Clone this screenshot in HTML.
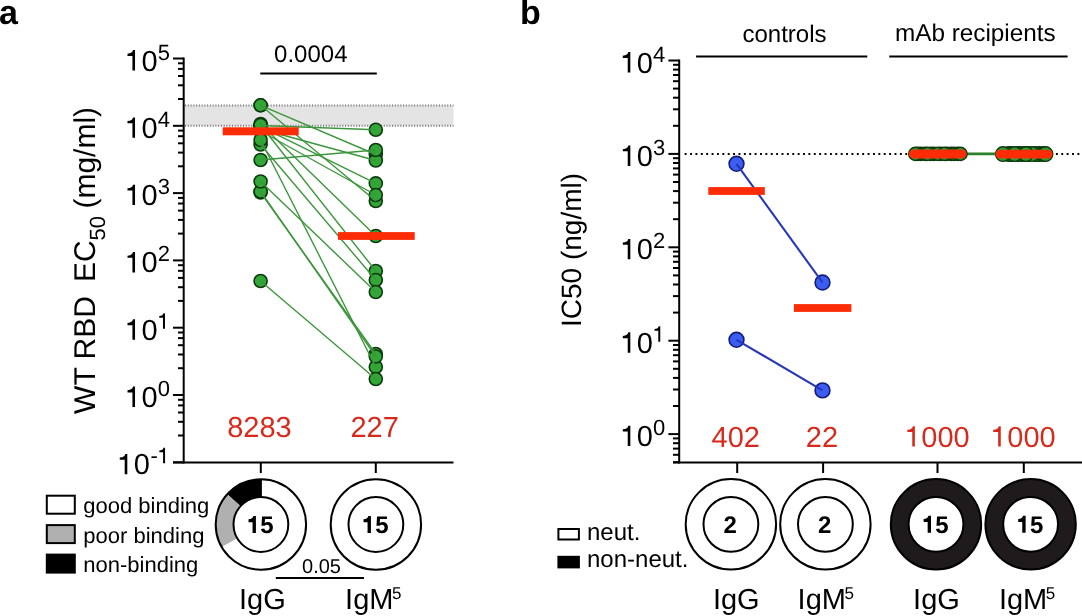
<!DOCTYPE html>
<html><head><meta charset="utf-8"><style>
html,body{margin:0;padding:0;background:#fff;}
svg{display:block;will-change:transform;}
text{font-family:"Liberation Sans", sans-serif;text-rendering:geometricPrecision;}
.t29{font-size:29px;}
.t28{font-size:28px;}
.t24{font-size:24px;}
.t22{font-size:22px;}
.t20{font-size:20px;}
.b24{font-size:24px;font-weight:bold;}
.lbl{font-size:34px;font-weight:bold;}
.red{fill:#d82a1c;}
.ax{stroke:#000;stroke-width:2;}
.gc{fill:#32a636;stroke:#0c3a0e;stroke-width:1.6;}
.gc2{fill:#2f9f33;stroke:#0c3a0e;stroke-width:1.4;}
.gl{stroke:#3c963c;stroke-width:1.4;}
.rb{fill:#fb2c06;}
.bc{fill:#3d5df2;stroke:#101d78;stroke-width:1.6;}
.bl{stroke:#2536b8;stroke-width:2.1;}
</style></head><body>
<svg width="1082" height="616" viewBox="0 0 1082 616">
<rect width="1082" height="616" fill="#fff"/>
<line x1="183.7" y1="57.5" x2="183.7" y2="463.5" class="ax"/>
<line x1="173" y1="462.5" x2="453.5" y2="462.5" class="ax"/>
<line x1="173" y1="462.3" x2="183.7" y2="462.3" class="ax"/>
<line x1="178" y1="435.5" x2="183.7" y2="435.5" class="ax"/>
<line x1="178" y1="421.8" x2="183.7" y2="421.8" class="ax"/>
<line x1="178" y1="412.5" x2="183.7" y2="412.5" class="ax"/>
<line x1="178" y1="405.4" x2="183.7" y2="405.4" class="ax"/>
<line x1="178" y1="399.8" x2="183.7" y2="399.8" class="ax"/>
<path transform="translate(117.68,474.30) scale(29,-29)" d="M0.332 0L0.332 0.703L0.262 0.703C0.247 0.63 0.195 0.585 0.072 0.577L0.072 0.502L0.242 0.502L0.242 0Z" fill="#000"/>
<text x="133.81" y="474.30" font-size="29" fill="#000">0</text>
<text x="150.44" y="463.30" font-size="22" fill="#000">-</text>
<path transform="translate(157.76,463.30) scale(22,-22)" d="M0.332 0L0.332 0.703L0.262 0.703C0.247 0.63 0.195 0.585 0.072 0.577L0.072 0.502L0.242 0.502L0.242 0Z" fill="#000"/>
<line x1="173" y1="395.0" x2="183.7" y2="395.0" class="ax"/>
<line x1="178" y1="368.2" x2="183.7" y2="368.2" class="ax"/>
<line x1="178" y1="354.5" x2="183.7" y2="354.5" class="ax"/>
<line x1="178" y1="345.2" x2="183.7" y2="345.2" class="ax"/>
<line x1="178" y1="338.1" x2="183.7" y2="338.1" class="ax"/>
<line x1="178" y1="332.5" x2="183.7" y2="332.5" class="ax"/>
<path transform="translate(125.41,407.00) scale(29,-29)" d="M0.332 0L0.332 0.703L0.262 0.703C0.247 0.63 0.195 0.585 0.072 0.577L0.072 0.502L0.242 0.502L0.242 0Z" fill="#000"/>
<text x="141.54" y="407.00" font-size="29" fill="#000">0</text>
<text x="157.66" y="396.00" font-size="22" fill="#000">0</text>
<line x1="173" y1="327.7" x2="183.7" y2="327.7" class="ax"/>
<line x1="178" y1="300.9" x2="183.7" y2="300.9" class="ax"/>
<line x1="178" y1="287.2" x2="183.7" y2="287.2" class="ax"/>
<line x1="178" y1="277.9" x2="183.7" y2="277.9" class="ax"/>
<line x1="178" y1="270.8" x2="183.7" y2="270.8" class="ax"/>
<line x1="178" y1="265.2" x2="183.7" y2="265.2" class="ax"/>
<path transform="translate(125.41,339.70) scale(29,-29)" d="M0.332 0L0.332 0.703L0.262 0.703C0.247 0.63 0.195 0.585 0.072 0.577L0.072 0.502L0.242 0.502L0.242 0Z" fill="#000"/>
<text x="141.54" y="339.70" font-size="29" fill="#000">0</text>
<path transform="translate(157.66,328.70) scale(22,-22)" d="M0.332 0L0.332 0.703L0.262 0.703C0.247 0.63 0.195 0.585 0.072 0.577L0.072 0.502L0.242 0.502L0.242 0Z" fill="#000"/>
<line x1="173" y1="260.4" x2="183.7" y2="260.4" class="ax"/>
<line x1="178" y1="233.6" x2="183.7" y2="233.6" class="ax"/>
<line x1="178" y1="219.9" x2="183.7" y2="219.9" class="ax"/>
<line x1="178" y1="210.6" x2="183.7" y2="210.6" class="ax"/>
<line x1="178" y1="203.5" x2="183.7" y2="203.5" class="ax"/>
<line x1="178" y1="197.9" x2="183.7" y2="197.9" class="ax"/>
<path transform="translate(125.41,272.40) scale(29,-29)" d="M0.332 0L0.332 0.703L0.262 0.703C0.247 0.63 0.195 0.585 0.072 0.577L0.072 0.502L0.242 0.502L0.242 0Z" fill="#000"/>
<text x="141.54" y="272.40" font-size="29" fill="#000">0</text>
<text x="157.66" y="261.40" font-size="22" fill="#000">2</text>
<line x1="173" y1="193.1" x2="183.7" y2="193.1" class="ax"/>
<line x1="178" y1="166.3" x2="183.7" y2="166.3" class="ax"/>
<line x1="178" y1="152.6" x2="183.7" y2="152.6" class="ax"/>
<line x1="178" y1="143.3" x2="183.7" y2="143.3" class="ax"/>
<line x1="178" y1="136.2" x2="183.7" y2="136.2" class="ax"/>
<line x1="178" y1="130.6" x2="183.7" y2="130.6" class="ax"/>
<path transform="translate(125.41,205.10) scale(29,-29)" d="M0.332 0L0.332 0.703L0.262 0.703C0.247 0.63 0.195 0.585 0.072 0.577L0.072 0.502L0.242 0.502L0.242 0Z" fill="#000"/>
<text x="141.54" y="205.10" font-size="29" fill="#000">0</text>
<text x="157.66" y="194.10" font-size="22" fill="#000">3</text>
<line x1="173" y1="125.8" x2="183.7" y2="125.8" class="ax"/>
<line x1="178" y1="99.0" x2="183.7" y2="99.0" class="ax"/>
<line x1="178" y1="85.3" x2="183.7" y2="85.3" class="ax"/>
<line x1="178" y1="76.0" x2="183.7" y2="76.0" class="ax"/>
<line x1="178" y1="68.9" x2="183.7" y2="68.9" class="ax"/>
<line x1="178" y1="63.3" x2="183.7" y2="63.3" class="ax"/>
<path transform="translate(125.41,137.80) scale(29,-29)" d="M0.332 0L0.332 0.703L0.262 0.703C0.247 0.63 0.195 0.585 0.072 0.577L0.072 0.502L0.242 0.502L0.242 0Z" fill="#000"/>
<text x="141.54" y="137.80" font-size="29" fill="#000">0</text>
<text x="157.66" y="126.80" font-size="22" fill="#000">4</text>
<line x1="173" y1="58.5" x2="183.7" y2="58.5" class="ax"/>
<path transform="translate(125.41,70.50) scale(29,-29)" d="M0.332 0L0.332 0.703L0.262 0.703C0.247 0.63 0.195 0.585 0.072 0.577L0.072 0.502L0.242 0.502L0.242 0Z" fill="#000"/>
<text x="141.54" y="70.50" font-size="29" fill="#000">0</text>
<text x="157.66" y="59.50" font-size="22" fill="#000">5</text>
<rect x="185" y="105.5" width="268.5" height="20.3" fill="#e4e4e4"/>
<line x1="185" y1="105.5" x2="453.5" y2="105.5" stroke="#7a7a7a" stroke-width="2" stroke-dasharray="1.1 1.66"/>
<line x1="185" y1="125.8" x2="453.5" y2="125.8" stroke="#7a7a7a" stroke-width="2" stroke-dasharray="1.1 1.66"/>
<line x1="260.8" y1="462.5" x2="260.8" y2="473" class="ax"/>
<line x1="375.8" y1="462.5" x2="375.8" y2="473" class="ax"/>
<circle cx="260.6" cy="105.3" r="6.5" class="gc"/>
<circle cx="375.8" cy="154.5" r="6.5" class="gc"/>
<circle cx="260.6" cy="105.3" r="6.5" class="gc"/>
<circle cx="375.8" cy="201.0" r="6.5" class="gc"/>
<circle cx="260.6" cy="125.5" r="6.5" class="gc"/>
<circle cx="375.8" cy="129.8" r="6.5" class="gc"/>
<circle cx="260.6" cy="129.0" r="6.5" class="gc"/>
<circle cx="375.8" cy="160.5" r="6.5" class="gc"/>
<circle cx="260.6" cy="160.0" r="6.5" class="gc"/>
<circle cx="375.8" cy="150.0" r="6.5" class="gc"/>
<circle cx="260.6" cy="126.6" r="6.5" class="gc"/>
<circle cx="375.8" cy="183.4" r="6.5" class="gc"/>
<circle cx="260.6" cy="131.0" r="6.5" class="gc"/>
<circle cx="375.8" cy="195.0" r="6.5" class="gc"/>
<circle cx="260.6" cy="124.0" r="6.5" class="gc"/>
<circle cx="375.8" cy="236.0" r="6.5" class="gc"/>
<circle cx="260.6" cy="125.0" r="6.5" class="gc"/>
<circle cx="375.8" cy="271.0" r="6.5" class="gc"/>
<circle cx="260.6" cy="144.5" r="6.5" class="gc"/>
<circle cx="375.8" cy="280.0" r="6.5" class="gc"/>
<circle cx="260.6" cy="140.0" r="6.5" class="gc"/>
<circle cx="375.8" cy="367.0" r="6.5" class="gc"/>
<circle cx="260.6" cy="192.5" r="6.5" class="gc"/>
<circle cx="375.8" cy="354.0" r="6.5" class="gc"/>
<circle cx="260.6" cy="191.5" r="6.5" class="gc"/>
<circle cx="375.8" cy="356.5" r="6.5" class="gc"/>
<circle cx="260.6" cy="181.5" r="6.5" class="gc"/>
<circle cx="375.8" cy="292.0" r="6.5" class="gc"/>
<circle cx="260.6" cy="281.0" r="6.5" class="gc"/>
<circle cx="375.8" cy="379.0" r="6.5" class="gc"/>
<line x1="260.6" y1="105.3" x2="375.8" y2="154.5" class="gl"/>
<line x1="260.6" y1="105.3" x2="375.8" y2="201.0" class="gl"/>
<line x1="260.6" y1="125.5" x2="375.8" y2="129.8" class="gl"/>
<line x1="260.6" y1="129.0" x2="375.8" y2="160.5" class="gl"/>
<line x1="260.6" y1="160.0" x2="375.8" y2="150.0" class="gl"/>
<line x1="260.6" y1="126.6" x2="375.8" y2="183.4" class="gl"/>
<line x1="260.6" y1="131.0" x2="375.8" y2="195.0" class="gl"/>
<line x1="260.6" y1="124.0" x2="375.8" y2="236.0" class="gl"/>
<line x1="260.6" y1="125.0" x2="375.8" y2="271.0" class="gl"/>
<line x1="260.6" y1="144.5" x2="375.8" y2="280.0" class="gl"/>
<line x1="260.6" y1="140.0" x2="375.8" y2="367.0" class="gl"/>
<line x1="260.6" y1="192.5" x2="375.8" y2="354.0" class="gl"/>
<line x1="260.6" y1="191.5" x2="375.8" y2="356.5" class="gl"/>
<line x1="260.6" y1="181.5" x2="375.8" y2="292.0" class="gl"/>
<line x1="260.6" y1="281.0" x2="375.8" y2="379.0" class="gl"/>
<rect x="222.7" y="127.3" width="76" height="8" class="rb"/>
<rect x="338" y="232.1" width="76.7" height="7.8" class="rb"/>
<text x="310.8" y="62.4" text-anchor="middle" class="t24">0.0004</text>
<line x1="260.3" y1="73.5" x2="376.8" y2="73.5" class="ax"/>
<text x="259.5" y="437.3" text-anchor="middle" class="t29 red">8283</text>
<text x="374.6" y="437.3" text-anchor="middle" class="t29 red">227</text>
<text transform="translate(94.6,413.9) rotate(-90)" font-size="30">WT RBD</text>
<text transform="translate(94.6,282) rotate(-90)" font-size="30">EC</text>
<text transform="translate(104.6,240.6) rotate(-90)" font-size="22">50</text>
<text transform="translate(94.6,208.6) rotate(-90)" font-size="30">(mg/ml)</text>
<text x="-1" y="23.9" class="lbl">a</text>
<text x="520" y="23.6" class="lbl">b</text>
<circle cx="260.9" cy="524.5" r="45.2" fill="#fff"/>
<path d="M260.90,479.30 A45.2,45.2 0 0 0 227.31,494.26 L240.54,506.17 A27.4,27.4 0 0 1 260.90,497.10 Z" fill="#000"/>
<path d="M227.31,494.26 A45.2,45.2 0 0 0 221.76,547.10 L237.17,538.20 A27.4,27.4 0 0 1 240.54,506.17 Z" fill="#b0b0b0"/>
<line x1="260.9" y1="479.3" x2="260.9" y2="497.1" stroke="#000" stroke-width="2"/>
<circle cx="260.9" cy="524.5" r="45.2" fill="none" stroke="#000" stroke-width="2"/>
<circle cx="260.9" cy="524.5" r="27.4" fill="#fff" stroke="#000" stroke-width="2"/>
<path transform="translate(246.85,533.00) scale(24,-24)" d="M0.378 0L0.378 0.71L0.272 0.71C0.255 0.635 0.19 0.58 0.069 0.572L0.069 0.45L0.238 0.45L0.238 0Z" fill="#000"/>
<text x="260.20" y="533.00" font-size="24" font-weight="bold" fill="#000">5</text>
<circle cx="375.9" cy="524.5" r="45.2" fill="#fff"/>
<circle cx="375.9" cy="524.5" r="45.2" fill="none" stroke="#000" stroke-width="2"/>
<circle cx="375.9" cy="524.5" r="27.4" fill="#fff" stroke="#000" stroke-width="2"/>
<path transform="translate(361.85,533.00) scale(24,-24)" d="M0.378 0L0.378 0.71L0.272 0.71C0.255 0.635 0.19 0.58 0.069 0.572L0.069 0.45L0.238 0.45L0.238 0Z" fill="#000"/>
<text x="375.20" y="533.00" font-size="24" font-weight="bold" fill="#000">5</text>
<rect x="46.8" y="495.7" width="28" height="18" fill="#fff" stroke="#000" stroke-width="2"/>
<text x="83.3" y="513.3" class="t22">good binding</text>
<rect x="46.8" y="525.1" width="28" height="18" fill="#b0b0b0" stroke="#000" stroke-width="2"/>
<text x="83.3" y="542.8" class="t22">poor binding</text>
<rect x="46.8" y="554.6" width="28" height="18" fill="#000" stroke="#000" stroke-width="2"/>
<text x="83.3" y="572.2" class="t22">non-binding</text>
<text x="321.5" y="573.3" text-anchor="middle" class="t20">0.05</text>
<line x1="275.8" y1="578" x2="364" y2="578" class="ax"/>
<text x="239" y="608.7" class="t29">IgG</text>
<text x="345.1" y="608.7" class="t29">IgM<tspan font-size="17" dx="-1.4" dy="-9.3">5</tspan></text>
<line x1="679.2" y1="59.5" x2="679.2" y2="463.5" class="ax"/>
<line x1="673" y1="462.5" x2="1082" y2="462.5" class="ax"/>
<line x1="668.4" y1="434.1" x2="679.2" y2="434.1" class="ax"/>
<path transform="translate(620.71,446.10) scale(29,-29)" d="M0.332 0L0.332 0.703L0.262 0.703C0.247 0.63 0.195 0.585 0.072 0.577L0.072 0.502L0.242 0.502L0.242 0Z" fill="#000"/>
<text x="636.84" y="446.10" font-size="29" fill="#000">0</text>
<text x="652.96" y="435.10" font-size="22" fill="#000">0</text>
<line x1="668.4" y1="340.7" x2="679.2" y2="340.7" class="ax"/>
<path transform="translate(620.71,352.70) scale(29,-29)" d="M0.332 0L0.332 0.703L0.262 0.703C0.247 0.63 0.195 0.585 0.072 0.577L0.072 0.502L0.242 0.502L0.242 0Z" fill="#000"/>
<text x="636.84" y="352.70" font-size="29" fill="#000">0</text>
<path transform="translate(652.96,341.70) scale(22,-22)" d="M0.332 0L0.332 0.703L0.262 0.703C0.247 0.63 0.195 0.585 0.072 0.577L0.072 0.502L0.242 0.502L0.242 0Z" fill="#000"/>
<line x1="668.4" y1="247.3" x2="679.2" y2="247.3" class="ax"/>
<path transform="translate(620.71,259.30) scale(29,-29)" d="M0.332 0L0.332 0.703L0.262 0.703C0.247 0.63 0.195 0.585 0.072 0.577L0.072 0.502L0.242 0.502L0.242 0Z" fill="#000"/>
<text x="636.84" y="259.30" font-size="29" fill="#000">0</text>
<text x="652.96" y="248.30" font-size="22" fill="#000">2</text>
<line x1="668.4" y1="153.9" x2="679.2" y2="153.9" class="ax"/>
<path transform="translate(620.71,165.90) scale(29,-29)" d="M0.332 0L0.332 0.703L0.262 0.703C0.247 0.63 0.195 0.585 0.072 0.577L0.072 0.502L0.242 0.502L0.242 0Z" fill="#000"/>
<text x="636.84" y="165.90" font-size="29" fill="#000">0</text>
<text x="652.96" y="154.90" font-size="22" fill="#000">3</text>
<line x1="668.4" y1="60.5" x2="679.2" y2="60.5" class="ax"/>
<path transform="translate(620.71,72.50) scale(29,-29)" d="M0.332 0L0.332 0.703L0.262 0.703C0.247 0.63 0.195 0.585 0.072 0.577L0.072 0.502L0.242 0.502L0.242 0Z" fill="#000"/>
<text x="636.84" y="72.50" font-size="29" fill="#000">0</text>
<text x="652.96" y="61.50" font-size="22" fill="#000">4</text>
<line x1="673" y1="462.2" x2="679.2" y2="462.2" class="ax"/>
<line x1="673" y1="454.8" x2="679.2" y2="454.8" class="ax"/>
<line x1="673" y1="448.6" x2="679.2" y2="448.6" class="ax"/>
<line x1="673" y1="443.2" x2="679.2" y2="443.2" class="ax"/>
<line x1="673" y1="438.4" x2="679.2" y2="438.4" class="ax"/>
<line x1="673" y1="406.0" x2="679.2" y2="406.0" class="ax"/>
<line x1="673" y1="389.5" x2="679.2" y2="389.5" class="ax"/>
<line x1="673" y1="377.9" x2="679.2" y2="377.9" class="ax"/>
<line x1="673" y1="368.8" x2="679.2" y2="368.8" class="ax"/>
<line x1="673" y1="361.4" x2="679.2" y2="361.4" class="ax"/>
<line x1="673" y1="355.2" x2="679.2" y2="355.2" class="ax"/>
<line x1="673" y1="349.8" x2="679.2" y2="349.8" class="ax"/>
<line x1="673" y1="345.0" x2="679.2" y2="345.0" class="ax"/>
<line x1="673" y1="312.6" x2="679.2" y2="312.6" class="ax"/>
<line x1="673" y1="296.1" x2="679.2" y2="296.1" class="ax"/>
<line x1="673" y1="284.5" x2="679.2" y2="284.5" class="ax"/>
<line x1="673" y1="275.4" x2="679.2" y2="275.4" class="ax"/>
<line x1="673" y1="268.0" x2="679.2" y2="268.0" class="ax"/>
<line x1="673" y1="261.8" x2="679.2" y2="261.8" class="ax"/>
<line x1="673" y1="256.4" x2="679.2" y2="256.4" class="ax"/>
<line x1="673" y1="251.6" x2="679.2" y2="251.6" class="ax"/>
<line x1="673" y1="219.2" x2="679.2" y2="219.2" class="ax"/>
<line x1="673" y1="202.7" x2="679.2" y2="202.7" class="ax"/>
<line x1="673" y1="191.1" x2="679.2" y2="191.1" class="ax"/>
<line x1="673" y1="182.0" x2="679.2" y2="182.0" class="ax"/>
<line x1="673" y1="174.6" x2="679.2" y2="174.6" class="ax"/>
<line x1="673" y1="168.4" x2="679.2" y2="168.4" class="ax"/>
<line x1="673" y1="163.0" x2="679.2" y2="163.0" class="ax"/>
<line x1="673" y1="158.2" x2="679.2" y2="158.2" class="ax"/>
<line x1="673" y1="125.8" x2="679.2" y2="125.8" class="ax"/>
<line x1="673" y1="109.3" x2="679.2" y2="109.3" class="ax"/>
<line x1="673" y1="97.7" x2="679.2" y2="97.7" class="ax"/>
<line x1="673" y1="88.6" x2="679.2" y2="88.6" class="ax"/>
<line x1="673" y1="81.2" x2="679.2" y2="81.2" class="ax"/>
<line x1="673" y1="75.0" x2="679.2" y2="75.0" class="ax"/>
<line x1="673" y1="69.6" x2="679.2" y2="69.6" class="ax"/>
<line x1="673" y1="64.8" x2="679.2" y2="64.8" class="ax"/>
<line x1="737.2" y1="462.5" x2="737.2" y2="473" class="ax"/>
<line x1="823.1" y1="462.5" x2="823.1" y2="473" class="ax"/>
<line x1="937.5" y1="462.5" x2="937.5" y2="473" class="ax"/>
<line x1="1023.8" y1="462.5" x2="1023.8" y2="473" class="ax"/>
<line x1="684.7" y1="153.9" x2="1082" y2="153.9" stroke="#000" stroke-width="2" stroke-dasharray="1.9 3.48" />
<circle cx="736.5" cy="163.8" r="7.4" class="bc"/>
<circle cx="736.5" cy="339.8" r="7.4" class="bc"/>
<circle cx="822.5" cy="282.5" r="7.4" class="bc"/>
<circle cx="822.5" cy="390.4" r="7.4" class="bc"/>
<line x1="736.5" y1="163.8" x2="822.5" y2="282.5" class="bl"/>
<line x1="736.5" y1="339.8" x2="822.5" y2="390.4" class="bl"/>
<rect x="708.3" y="187.1" width="56.5" height="7.8" class="rb"/>
<rect x="793.9" y="304.1" width="57.5" height="7.8" class="rb"/>
<line x1="960" y1="153.9" x2="1000" y2="153.9" stroke="#2c7f2c" stroke-width="2.6"/>
<circle cx="921.0" cy="153.9" r="6.6" class="gc2"/>
<circle cx="934.0" cy="153.9" r="6.6" class="gc2"/>
<circle cx="951.0" cy="153.9" r="6.6" class="gc2"/>
<circle cx="918.0" cy="153.9" r="6.6" class="gc2"/>
<circle cx="931.0" cy="153.9" r="6.6" class="gc2"/>
<circle cx="941.0" cy="153.9" r="6.6" class="gc2"/>
<circle cx="954.0" cy="153.9" r="6.6" class="gc2"/>
<circle cx="947.0" cy="153.9" r="6.6" class="gc2"/>
<circle cx="925.0" cy="153.9" r="6.6" class="gc2"/>
<circle cx="938.0" cy="153.9" r="6.6" class="gc2"/>
<circle cx="915.3" cy="153.9" r="6.6" class="gc2"/>
<circle cx="927.4" cy="153.9" r="6.6" class="gc2"/>
<circle cx="944.4" cy="153.9" r="6.6" class="gc2"/>
<circle cx="957.7" cy="153.9" r="6.6" class="gc2"/>
<circle cx="960.5" cy="153.9" r="6.6" class="gc2"/>
<circle cx="1008.8" cy="154.1" r="7.3" class="gc2"/>
<circle cx="1024.3" cy="154.1" r="7.3" class="gc2"/>
<circle cx="1039.2" cy="154.1" r="7.3" class="gc2"/>
<circle cx="1020.0" cy="154.1" r="7.3" class="gc2"/>
<circle cx="1028.0" cy="154.1" r="7.3" class="gc2"/>
<circle cx="1036.0" cy="154.1" r="7.3" class="gc2"/>
<circle cx="1011.0" cy="154.1" r="7.3" class="gc2"/>
<circle cx="1018.0" cy="154.1" r="7.3" class="gc2"/>
<circle cx="1002.9" cy="154.1" r="7.3" class="gc2"/>
<circle cx="1014.6" cy="154.1" r="7.3" class="gc2"/>
<circle cx="1032.0" cy="154.1" r="7.3" class="gc2"/>
<circle cx="1043.7" cy="154.1" r="7.3" class="gc2"/>
<circle cx="1045.5" cy="154.1" r="7.3" class="gc2"/>
<circle cx="1026.0" cy="154.1" r="7.3" class="gc2"/>
<rect x="908.9" y="149.5" width="57.6" height="8.9" rx="4.4" class="rb"/>
<rect x="995.5" y="149.8" width="57" height="8.6" rx="4.3" class="rb"/>
<text x="784.5" y="41.7" text-anchor="middle" class="t24">controls</text>
<line x1="696.1" y1="56.6" x2="867.3" y2="56.6" class="ax"/>
<text x="975.3" y="41.3" text-anchor="middle" font-size="24.3">mAb recipients</text>
<line x1="889.3" y1="56.4" x2="1067.6" y2="56.4" class="ax"/>
<text x="735.8" y="446.6" text-anchor="middle" class="t29 red">402</text>
<text x="822" y="446.6" text-anchor="middle" class="t29 red">22</text>
<path transform="translate(905.24,446.60) scale(29,-29)" d="M0.332 0L0.332 0.703L0.262 0.703C0.247 0.63 0.195 0.585 0.072 0.577L0.072 0.502L0.242 0.502L0.242 0Z" fill="#d82a1c"/>
<text x="921.37" y="446.60" font-size="29" fill="#d82a1c">000</text>
<path transform="translate(991.14,446.60) scale(29,-29)" d="M0.332 0L0.332 0.703L0.262 0.703C0.247 0.63 0.195 0.585 0.072 0.577L0.072 0.502L0.242 0.502L0.242 0Z" fill="#d82a1c"/>
<text x="1007.27" y="446.60" font-size="29" fill="#d82a1c">000</text>
<text transform="translate(580.7,327) rotate(-90)" class="t28">IC50 (ng/ml)</text>
<circle cx="730.9" cy="524.3" r="45.2" fill="#fff"/>
<circle cx="730.9" cy="524.3" r="45.2" fill="none" stroke="#000" stroke-width="2"/>
<circle cx="730.9" cy="524.3" r="27.4" fill="#fff" stroke="#000" stroke-width="2"/>
<text x="723.53" y="532.80" font-size="24" font-weight="bold" fill="#000">2</text>
<circle cx="825.4" cy="524.3" r="45.2" fill="#fff"/>
<circle cx="825.4" cy="524.3" r="45.2" fill="none" stroke="#000" stroke-width="2"/>
<circle cx="825.4" cy="524.3" r="27.4" fill="#fff" stroke="#000" stroke-width="2"/>
<text x="818.03" y="532.80" font-size="24" font-weight="bold" fill="#000">2</text>
<circle cx="936.0" cy="524.3" r="36.3" fill="none" stroke="#1f1b1c" stroke-width="17.800000000000004"/>
<circle cx="936.0" cy="524.3" r="45.2" fill="none" stroke="#000" stroke-width="2"/>
<circle cx="936.0" cy="524.3" r="27.4" fill="#fff" stroke="#000" stroke-width="2"/>
<path transform="translate(921.95,532.80) scale(24,-24)" d="M0.378 0L0.378 0.71L0.272 0.71C0.255 0.635 0.19 0.58 0.069 0.572L0.069 0.45L0.238 0.45L0.238 0Z" fill="#000"/>
<text x="935.30" y="532.80" font-size="24" font-weight="bold" fill="#000">5</text>
<circle cx="1030.6" cy="524.3" r="36.3" fill="none" stroke="#1f1b1c" stroke-width="17.800000000000004"/>
<circle cx="1030.6" cy="524.3" r="45.2" fill="none" stroke="#000" stroke-width="2"/>
<circle cx="1030.6" cy="524.3" r="27.4" fill="#fff" stroke="#000" stroke-width="2"/>
<path transform="translate(1016.55,532.80) scale(24,-24)" d="M0.378 0L0.378 0.71L0.272 0.71C0.255 0.635 0.19 0.58 0.069 0.572L0.069 0.45L0.238 0.45L0.238 0Z" fill="#000"/>
<text x="1029.90" y="532.80" font-size="24" font-weight="bold" fill="#000">5</text>
<rect x="558.4" y="529" width="20.5" height="10.5" fill="#fff" stroke="#000" stroke-width="2"/>
<rect x="557.4" y="555.8" width="22.5" height="12.6" fill="#000"/>
<text x="587" y="539.6" class="t24">neut.</text>
<text x="587" y="567.4" class="t24">non-neut.</text>
<text x="712.9" y="608.7" class="t29">IgG</text>
<text x="797.6" y="608.7" class="t29">IgM<tspan font-size="17" dx="-1.4" dy="-9.3">5</tspan></text>
<text x="913.1" y="608.7" class="t29">IgG</text>
<text x="998.9" y="608.7" class="t29">IgM<tspan font-size="17" dx="-1.4" dy="-9.3">5</tspan></text>
</svg>
</body></html>
